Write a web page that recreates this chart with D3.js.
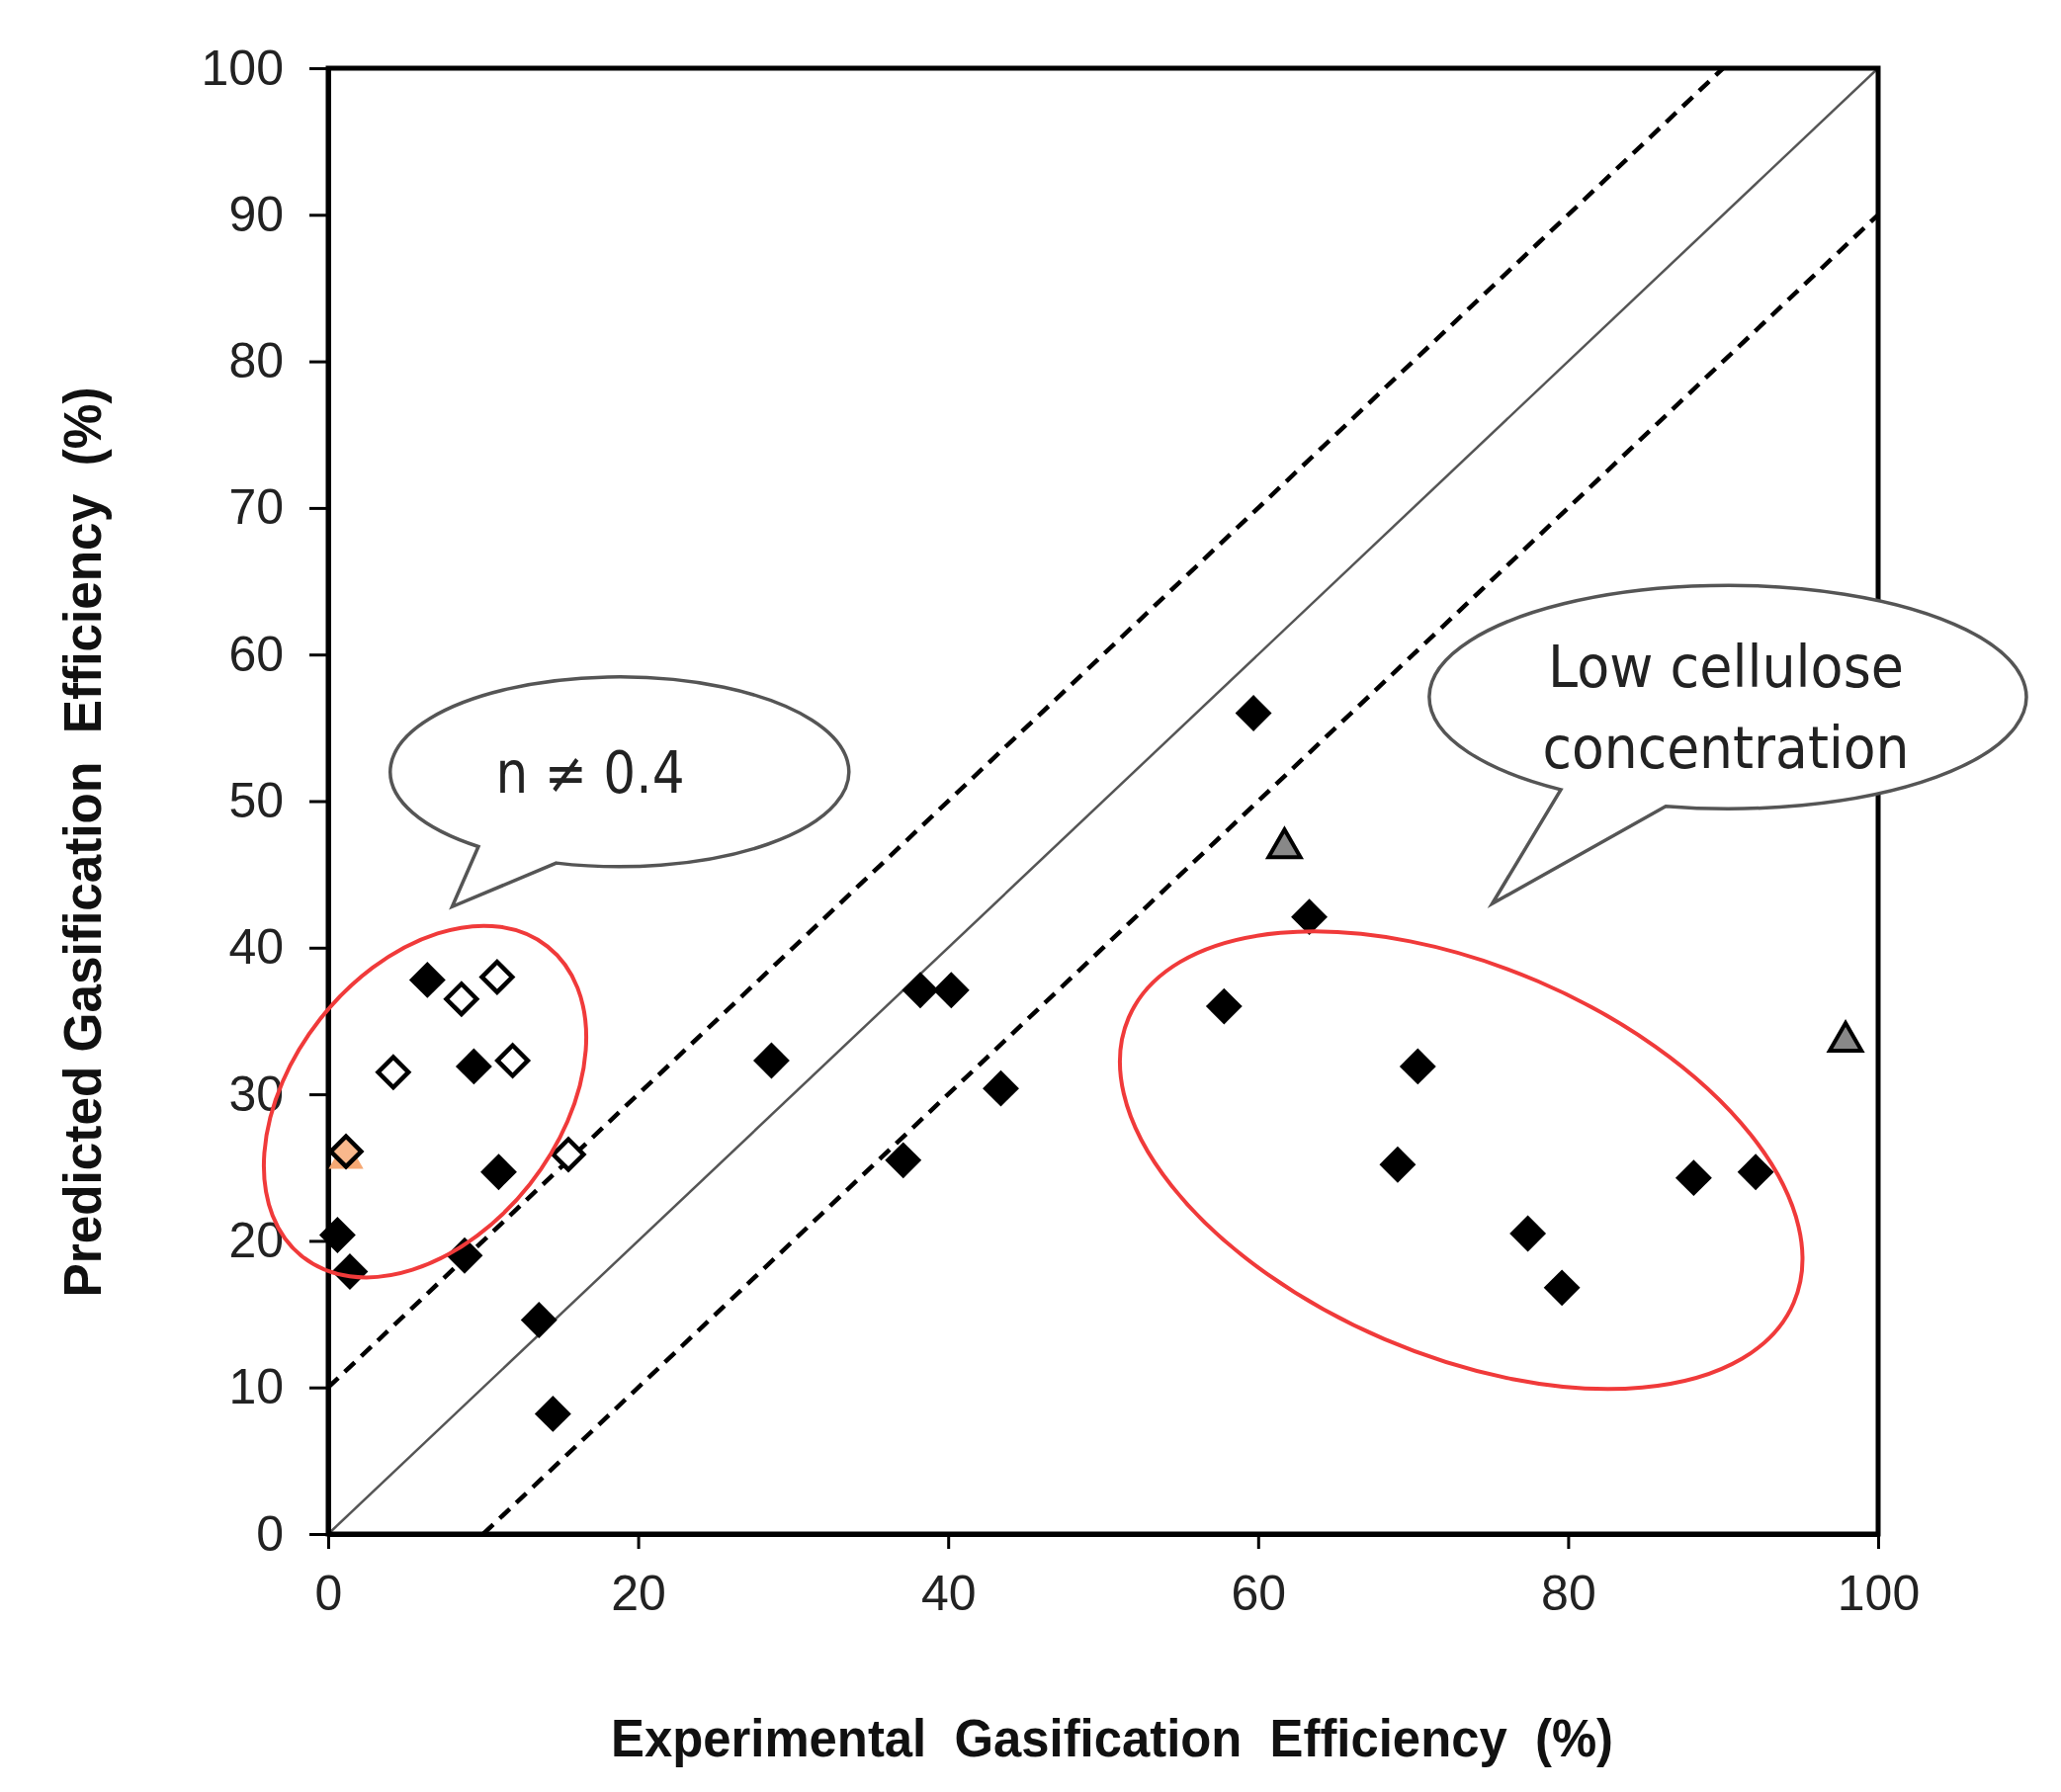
<!DOCTYPE html>
<html lang="en">
<head>
    <meta charset="UTF-8">
    <title>Predicted vs Experimental Gasification Efficiency</title>
    <script src="https://d3js.org/d3.v7.min.js"></script>
    <style>
        body { margin: 0; background: #fff; }
        svg { display: block; }
        .tick text { font-family: "Liberation Sans", Arial, sans-serif; font-size: 50px; fill: #222; }
        .tick line { stroke: #000; stroke-width: 3; }
        .domain { stroke: #000; stroke-width: 5; }
        .axis-title { font-family: "Liberation Sans", Arial, sans-serif; font-weight: bold; font-size: 54px; fill: #111; white-space: pre; }
        .note { font-family: "DejaVu Sans", "Noto Sans", sans-serif; font-size: 58px; fill: #222; }
    </style>
</head>
<body>
<svg width="2085" height="1813"></svg>
<script>
    // tick values
    const xTicks = [0, 20, 40, 60, 80, 100];
    const yTicks = [0, 10, 20, 30, 40, 50, 60, 70, 80, 90, 100];

    // filled black diamonds
    const filledX = [0.6, 1.4, 6.4, 9.4, 11.0, 8.8, 13.6, 14.5, 28.6, 37.1, 38.2, 40.2, 43.4,
                     59.7, 57.8, 63.3, 70.3, 69.0, 77.4, 79.6, 88.1, 92.1];
    const filledY = [20.4, 17.9, 37.8, 31.9, 24.7, 19.0, 14.6, 8.2, 32.3, 25.5, 37.1, 37.1, 30.4,
                     56.0, 36.0, 42.1, 31.9, 25.2, 20.5, 16.8, 24.3, 24.7];

    // open diamonds (n != 0.4)
    const openX = [4.2, 8.6, 10.9, 11.9, 15.5];
    const openY = [31.5, 36.5, 38.0, 32.3, 25.9];

    // grey triangles
    const triX = [61.7, 97.9];
    const triY = [46.8, 33.6];

    // orange markers
    const orangeTriX = [1.15];
    const orangeTriY = [25.6];
    const orangeDiaX = [1.15];
    const orangeDiaY = [26.1];

    // parity line offsets (y = x + offset)
    const lineOffsets = [10, 0, -10];

    const svg = d3.select("svg");
    const plot = { left: 332, right: 1900, top: 69, bottom: 1552 };

    const x = d3.scaleLinear().domain([0, 100]).range([plot.left, plot.right]);
    const y = d3.scaleLinear().domain([0, 100]).range([plot.bottom, plot.top]);

    svg.append("clipPath").attr("id", "clip")
        .append("rect")
        .attr("x", plot.left).attr("y", plot.top)
        .attr("width", plot.right - plot.left).attr("height", plot.bottom - plot.top);

    // parity lines
    svg.append("g").attr("clip-path", "url(#clip)")
        .selectAll("line")
        .data(lineOffsets)
        .enter()
        .append("line")
        .attr("x1", d => x(d < 0 ? -d : 0))
        .attr("y1", d => y(d < 0 ? 0 : d))
        .attr("x2", d => x(d > 0 ? 100 - d : 100))
        .attr("y2", d => y(d > 0 ? 100 : 100 + d))
        .attr("stroke", d => d === 0 ? "#555" : "#000")
        .attr("stroke-width", d => d === 0 ? 2.5 : 4.5)
        .attr("stroke-dasharray", d => d === 0 ? null : "14,9");

    // frame
    svg.append("rect")
        .attr("x", plot.left).attr("y", plot.top)
        .attr("width", plot.right - plot.left).attr("height", plot.bottom - plot.top)
        .attr("fill", "none").attr("stroke", "#000").attr("stroke-width", 5);

    svg.append("g")
        .attr("transform", `translate(0,${plot.bottom})`)
        .call(d3.axisBottom(x).tickValues(xTicks).tickSize(15).tickSizeOuter(0).tickPadding(26));

    svg.append("g")
        .attr("transform", `translate(${plot.left},0)`)
        .call(d3.axisLeft(y).tickValues(yTicks).tickSize(19).tickSizeOuter(0).tickPadding(26));

    svg.selectAll(".tick text").attr("font-size", null).attr("font-family", null);

    const diamond = size => d3.symbol().type(d3.symbolSquare).size(size)();
    const triangle = size => d3.symbol().type(d3.symbolTriangle).size(size)();

    // orange triangle (mostly hidden under the orange diamond)
    svg.append("g").selectAll("path")
        .data(d3.range(orangeTriX.length))
        .enter().append("path")
        .attr("d", triangle(540))
        .attr("transform", i => `translate(${x(orangeTriX[i])},${y(orangeTriY[i])})`)
        .attr("fill", "#f6a873");

    svg.append("g").selectAll("path")
        .data(d3.range(filledX.length))
        .enter().append("path")
        .attr("d", diamond(680))
        .attr("transform", i => `translate(${x(filledX[i])},${y(filledY[i])}) rotate(45)`)
        .attr("fill", "#000");

    svg.append("g").selectAll("path")
        .data(d3.range(openX.length))
        .enter().append("path")
        .attr("d", diamond(470))
        .attr("transform", i => `translate(${x(openX[i])},${y(openY[i])}) rotate(45)`)
        .attr("fill", "#fff").attr("stroke", "#000").attr("stroke-width", 4.5);

    svg.append("g").selectAll("path")
        .data(d3.range(orangeDiaX.length))
        .enter().append("path")
        .attr("d", diamond(470))
        .attr("transform", i => `translate(${x(orangeDiaX[i])},${y(orangeDiaY[i])}) rotate(45)`)
        .attr("fill", "#f8b88c").attr("stroke", "#000").attr("stroke-width", 4.5);

    svg.append("g").selectAll("path")
        .data(d3.range(triX.length))
        .enter().append("path")
        .attr("d", triangle(450))
        .attr("transform", i => `translate(${x(triX[i])},${y(triY[i])})`)
        .attr("fill", "#888").attr("stroke", "#000").attr("stroke-width", 4)
        .attr("stroke-linejoin", "miter");

    // red grouping ellipses
    const groups = [
        { cx: 6.25, cy: 29.5, rx: 200, ry: 135, angle: -51.7 },
        { cx: 73.1, cy: 25.5, rx: 366, ry: 197, angle: 23.2 }
    ];
    svg.append("g").selectAll("ellipse")
        .data(groups)
        .enter().append("ellipse")
        .attr("transform", d => `translate(${x(d.cx)},${y(d.cy)}) rotate(${d.angle})`)
        .attr("rx", d => d.rx).attr("ry", d => d.ry)
        .attr("fill", "none").attr("stroke", "#f03a3a").attr("stroke-width", 4);

    // speech bubbles
    const bubbles = [
        { cx: 18.8, cy: 52.0, rx: 232, ry: 96, tA: 128, tB: 106, tipX: 8.0, tipY: 42.8,
          lines: ["n \u2260 0.4"], textX: 597, widths: [191], baselines: [802] },
        { cx: 90.3, cy: 57.1, rx: 302, ry: 113, tA: 124, tB: 102, tipX: 75.1, tipY: 43.0,
          lines: ["Low cellulose", "concentration"], textX: 1746, widths: [360, 371], baselines: [695, 777] }
    ];
    bubbles.forEach(b => {
        const cx = x(b.cx), cy = y(b.cy);
        const pt = t => [cx + b.rx * Math.cos(t * Math.PI / 180), cy + b.ry * Math.sin(t * Math.PI / 180)];
        const A = pt(b.tA), B = pt(b.tB);
        const path = `M${A[0]},${A[1]} A${b.rx},${b.ry} 0 1 1 ${B[0]},${B[1]} L${x(b.tipX)},${y(b.tipY)} Z`;
        svg.append("path")
            .attr("d", path)
            .attr("fill", "#fff").attr("stroke", "#555").attr("stroke-width", 3.5)
            .attr("stroke-linejoin", "miter");
        b.lines.forEach((t, i) => {
            svg.append("text")
                .attr("class", "note")
                .attr("x", b.textX - b.widths[i] / 2)
                .attr("y", b.baselines[i])
                .attr("textLength", b.widths[i])
                .attr("lengthAdjust", "spacingAndGlyphs")
                .text(t);
        });
    });

    // axis titles
    svg.append("text")
        .attr("class", "axis-title")
        .attr("x", 1125).attr("y", 1777)
        .attr("text-anchor", "middle")
        .attr("textLength", 1014).attr("lengthAdjust", "spacingAndGlyphs")
        .text("Experimental  Gasification  Efficiency  (%)");

    svg.append("text")
        .attr("class", "axis-title")
        .attr("transform", "translate(102,852) rotate(-90)")
        .attr("text-anchor", "middle")
        .attr("textLength", 921).attr("lengthAdjust", "spacingAndGlyphs")
        .text("Predicted Gasification  Efficiency  (%)");
</script>
</body>
</html>
